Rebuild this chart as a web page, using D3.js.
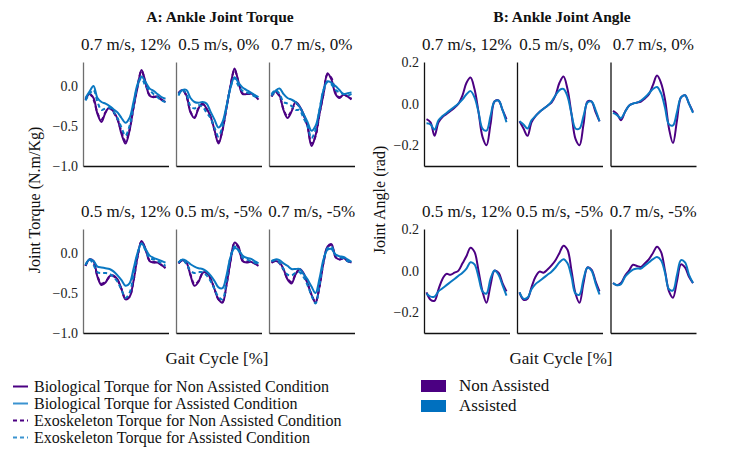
<!DOCTYPE html>
<html>
<head>
<meta charset="utf-8">
<script src="https://cdn.jsdelivr.net/npm/d3@7"></script>
<style>
  html, body { margin: 0; padding: 0; background: #fff; }
  svg { display: block; font-family: "Liberation Serif", "Times New Roman", serif; }
</style>
</head>
<body>
<svg id="chart" width="730" height="449"></svg>
<script>
// ---------------- DATA ----------------
const gait = [0,5,10,15,20,25,30,35,40,45,50,55,60,65,70,75,80,85,90,95,100];
const conditions = ["0.7 m/s, 12%", "0.5 m/s, 0%", "0.7 m/s, 0%", "0.5 m/s, 12%", "0.5 m/s, -5%", "0.7 m/s, -5%"];

// Panel A: ankle joint torque (N.m/Kg), one row per condition
const torqueBioNon = [
  [-0.17,-0.10,-0.15,-0.35,-0.45,-0.33,-0.27,-0.32,-0.41,-0.60,-0.72,-0.56,-0.27,-0.02,0.20,0.05,-0.12,-0.14,-0.13,-0.17,-0.20],
  [-0.09,-0.05,-0.12,-0.33,-0.40,-0.28,-0.22,-0.28,-0.38,-0.55,-0.72,-0.55,-0.27,0.00,0.22,0.05,-0.10,-0.10,-0.09,-0.12,-0.17],
  [-0.13,-0.07,-0.12,-0.30,-0.40,-0.32,-0.20,-0.25,-0.35,-0.50,-0.75,-0.62,-0.35,-0.10,0.16,0.08,-0.10,-0.15,-0.11,-0.13,-0.17],
  [-0.16,-0.08,-0.10,-0.30,-0.40,-0.37,-0.29,-0.28,-0.33,-0.45,-0.58,-0.55,-0.35,-0.05,0.15,0.05,-0.10,-0.12,-0.12,-0.15,-0.19],
  [-0.13,-0.09,-0.12,-0.28,-0.41,-0.36,-0.25,-0.24,-0.32,-0.45,-0.58,-0.62,-0.40,-0.10,0.13,0.08,-0.10,-0.12,-0.11,-0.13,-0.16],
  [-0.12,-0.10,-0.12,-0.20,-0.33,-0.38,-0.27,-0.20,-0.25,-0.38,-0.52,-0.62,-0.42,-0.12,0.08,0.11,-0.05,-0.08,-0.06,-0.10,-0.12]
];
const torqueBioAss = [
  [-0.15,-0.07,0.00,-0.15,-0.20,-0.22,-0.25,-0.29,-0.33,-0.40,-0.46,-0.40,-0.20,0.02,0.12,0.05,-0.03,-0.06,-0.10,-0.14,-0.16],
  [-0.10,-0.05,-0.05,-0.15,-0.20,-0.21,-0.20,-0.22,-0.32,-0.42,-0.52,-0.45,-0.25,-0.02,0.11,0.04,-0.02,-0.05,-0.08,-0.11,-0.14],
  [-0.12,-0.06,-0.03,-0.10,-0.15,-0.17,-0.20,-0.26,-0.35,-0.45,-0.56,-0.50,-0.30,-0.05,0.06,0.04,0.00,-0.05,-0.10,-0.09,-0.08],
  [-0.15,-0.08,-0.10,-0.17,-0.18,-0.19,-0.20,-0.23,-0.28,-0.34,-0.41,-0.38,-0.20,0.00,0.12,0.05,-0.03,-0.06,-0.08,-0.10,-0.12],
  [-0.12,-0.08,-0.10,-0.14,-0.17,-0.19,-0.20,-0.23,-0.28,-0.35,-0.43,-0.44,-0.28,-0.05,0.06,0.04,-0.03,-0.06,-0.07,-0.10,-0.13],
  [-0.10,-0.08,-0.09,-0.13,-0.16,-0.20,-0.20,-0.20,-0.26,-0.33,-0.42,-0.50,-0.32,-0.08,0.04,0.05,-0.02,-0.04,-0.05,-0.08,-0.11]
];
const torqueExoNon = [
  [-0.17,-0.10,-0.17,-0.34,-0.42,-0.33,-0.28,-0.33,-0.42,-0.57,-0.69,-0.55,-0.27,0.00,0.19,0.03,-0.11,-0.13,-0.14,-0.17,-0.19],
  [-0.09,-0.05,-0.13,-0.32,-0.39,-0.28,-0.23,-0.29,-0.38,-0.55,-0.70,-0.55,-0.27,0.00,0.20,0.05,-0.09,-0.10,-0.10,-0.12,-0.16],
  [-0.13,-0.08,-0.13,-0.29,-0.38,-0.31,-0.22,-0.26,-0.36,-0.50,-0.72,-0.63,-0.35,-0.10,0.14,0.10,-0.08,-0.14,-0.11,-0.13,-0.16],
  [-0.16,-0.08,-0.12,-0.29,-0.38,-0.36,-0.30,-0.29,-0.34,-0.45,-0.57,-0.55,-0.35,-0.05,0.14,0.05,-0.09,-0.11,-0.12,-0.15,-0.18],
  [-0.13,-0.09,-0.13,-0.27,-0.39,-0.35,-0.26,-0.25,-0.32,-0.45,-0.58,-0.61,-0.40,-0.10,0.12,0.07,-0.09,-0.11,-0.11,-0.13,-0.15],
  [-0.12,-0.10,-0.13,-0.21,-0.32,-0.36,-0.27,-0.21,-0.26,-0.38,-0.52,-0.61,-0.42,-0.12,0.07,0.10,-0.05,-0.08,-0.07,-0.10,-0.12]
];
const torqueExoAss = [
  [-0.18,-0.10,-0.05,-0.20,-0.30,-0.28,-0.27,-0.32,-0.40,-0.52,-0.62,-0.50,-0.25,0.00,0.10,0.00,-0.05,-0.10,-0.14,-0.18,-0.20],
  [-0.12,-0.05,-0.10,-0.25,-0.28,-0.24,-0.26,-0.33,-0.40,-0.52,-0.63,-0.50,-0.27,-0.02,0.10,0.00,-0.06,-0.08,-0.10,-0.13,-0.15],
  [-0.10,-0.05,-0.10,-0.20,-0.22,-0.25,-0.30,-0.30,-0.40,-0.50,-0.65,-0.55,-0.30,-0.05,0.05,0.02,-0.05,-0.08,-0.10,-0.12,-0.10],
  [-0.15,-0.08,-0.15,-0.24,-0.25,-0.25,-0.26,-0.30,-0.36,-0.46,-0.56,-0.50,-0.28,-0.02,0.12,0.03,-0.06,-0.08,-0.10,-0.13,-0.16],
  [-0.12,-0.08,-0.14,-0.22,-0.25,-0.24,-0.24,-0.28,-0.35,-0.45,-0.55,-0.58,-0.35,-0.05,0.08,0.03,-0.06,-0.08,-0.10,-0.12,-0.14],
  [-0.10,-0.09,-0.12,-0.20,-0.27,-0.28,-0.25,-0.24,-0.30,-0.40,-0.53,-0.63,-0.40,-0.10,0.06,0.08,-0.02,-0.05,-0.07,-0.10,-0.12]
];

// Panel B: ankle joint angle (rad)
const angleNon = [
  [-0.075,-0.09,-0.155,-0.09,-0.065,-0.05,-0.035,-0.02,0.00,0.04,0.10,0.125,0.07,-0.04,-0.16,-0.20,-0.10,0.01,0.015,-0.03,-0.075],
  [-0.085,-0.12,-0.155,-0.09,-0.06,-0.04,-0.025,-0.01,0.005,0.04,0.10,0.13,0.07,-0.05,-0.17,-0.20,-0.10,0.01,0.01,-0.04,-0.085],
  [-0.035,-0.05,-0.08,-0.04,-0.01,0.00,0.005,0.01,0.025,0.045,0.09,0.135,0.10,0.02,-0.12,-0.19,-0.08,0.03,0.04,0.00,-0.04],
  [-0.105,-0.14,-0.145,-0.09,-0.04,-0.016,-0.02,-0.01,0.00,0.035,0.07,0.11,0.09,0.00,-0.10,-0.155,-0.07,0.00,-0.01,-0.06,-0.10],
  [-0.105,-0.14,-0.135,-0.08,-0.03,-0.005,-0.01,0.005,0.025,0.05,0.085,0.12,0.10,0.00,-0.11,-0.155,-0.06,0.015,0.005,-0.05,-0.10],
  [-0.06,-0.07,-0.06,-0.025,0.00,0.028,0.022,0.018,0.035,0.055,0.085,0.115,0.09,0.00,-0.10,-0.13,-0.05,0.03,0.015,-0.03,-0.06]
];
const angleAss = [
  [-0.095,-0.10,-0.125,-0.08,-0.06,-0.045,-0.03,-0.015,0.00,0.02,0.045,0.06,0.03,-0.04,-0.12,-0.13,-0.06,0.01,0.015,-0.03,-0.09],
  [-0.085,-0.10,-0.12,-0.08,-0.06,-0.04,-0.025,-0.01,0.01,0.04,0.065,0.07,0.035,-0.05,-0.12,-0.12,-0.06,0.005,0.01,-0.03,-0.085],
  [-0.045,-0.055,-0.07,-0.04,-0.01,0.00,0.005,0.015,0.03,0.05,0.07,0.08,0.05,-0.02,-0.10,-0.105,-0.04,0.03,0.04,0.00,-0.045],
  [-0.11,-0.125,-0.125,-0.10,-0.085,-0.07,-0.055,-0.04,-0.025,-0.01,0.01,0.04,0.03,-0.03,-0.10,-0.11,-0.04,0.00,-0.02,-0.07,-0.12],
  [-0.105,-0.135,-0.13,-0.09,-0.065,-0.05,-0.035,-0.02,-0.005,0.015,0.04,0.055,0.035,-0.03,-0.11,-0.115,-0.04,0.015,0.00,-0.06,-0.115],
  [-0.06,-0.07,-0.065,-0.03,-0.01,0.005,0.01,0.01,0.025,0.04,0.055,0.065,0.05,-0.01,-0.09,-0.095,-0.02,0.05,0.04,-0.02,-0.06]
];

const torqueTicks = [0.0, -0.5, -1.0];
const angleTicks = [0.2, 0.0, -0.2];
const torqueLegend = [
  "Biological Torque for Non Assisted Condition",
  "Biological Torque for Assisted Condition",
  "Exoskeleton Torque for Non Assisted Condition",
  "Exoskeleton Torque for Assisted Condition"
];
const angleLegend = ["Non Assisted", "Assisted"];

// ---------------- STYLE / LAYOUT ----------------
const PURPLE = "#4B0082";
const BLUE = "#0A78C2";
const FONT = '"Liberation Serif", "Times New Roman", serif';
const svg = d3.select("#chart");

const panelW = 85.5;
const rowTop = [62, 229];
const rowH = 104;
const colA = [83, 176, 269];
const colB = [424, 517, 610.5];
const fmt = v => d3.format(".1f")(v).replace("-", "\u2212");

const lineGen = (xs, ys) => d3.line()
  .x((d, i) => xs(gait[i]))
  .y(d => ys(d))
  .curve(d3.curveCatmullRom.alpha(0.5));

function drawPanel(x0, y0, idx, domain, ticks, showLabels, leftColor, series) {
  const xs = d3.scaleLinear().domain([0, 100]).range([x0 + 2.5, x0 + panelW - 3]);
  const ys = d3.scaleLinear().domain(domain).range([y0 + rowH, y0]);
  const g = svg.append("g");
  const la = g.append("g").attr("transform", `translate(${x0},0)`)
    .call(d3.axisLeft(ys).tickValues(ticks).tickSize(0).tickPadding(5).tickFormat(showLabels ? fmt : ""));
  la.select(".domain").attr("stroke", leftColor).attr("stroke-width", 1.3);
  la.selectAll("text").attr("font-family", FONT).attr("font-size", 14).attr("fill", "#222");
  const ba = g.append("g").attr("transform", `translate(0,${y0 + rowH})`)
    .call(d3.axisBottom(d3.scaleLinear().domain([0, 100]).range([x0, x0 + panelW])).tickValues([]).tickSize(0));
  ba.select(".domain").attr("stroke", "#111").attr("stroke-width", 1.3);
  series.forEach(s => {
    g.append("path")
      .attr("d", lineGen(xs, ys)(s.values))
      .attr("fill", "none")
      .attr("stroke", s.color)
      .attr("stroke-width", 2)
      .attr("stroke-dasharray", s.dash || null)
      .attr("stroke-linejoin", "round");
  });
  svg.append("text")
    .attr("x", x0 + panelW / 2).attr("y", y0 - 12)
    .attr("text-anchor", "middle")
    .attr("font-family", FONT).attr("font-size", 17).attr("fill", "#111")
    .text(conditions[idx]);
}

for (let i = 0; i < 6; i++) {
  const r = Math.floor(i / 3), c = i % 3;
  drawPanel(colA[c], rowTop[r], i, [-1.0, 0.3], torqueTicks, c === 0, "#6e6e6e", [
    { values: torqueBioNon[i], color: PURPLE },
    { values: torqueExoNon[i], color: PURPLE, dash: "4,3" },
    { values: torqueBioAss[i], color: BLUE },
    { values: torqueExoAss[i], color: BLUE, dash: "4,3" }
  ]);
  drawPanel(colB[c], rowTop[r], i, [-0.3, 0.2], angleTicks, c === 0, "#111", [
    { values: angleNon[i], color: PURPLE },
    { values: angleAss[i], color: BLUE }
  ]);
}

// main titles
svg.append("text").attr("x", 220).attr("y", 22).attr("text-anchor", "middle")
  .attr("font-family", FONT).attr("font-size", 15.5).attr("font-weight", "bold").attr("fill", "#111")
  .text("A: Ankle Joint Torque");
svg.append("text").attr("x", 562).attr("y", 22).attr("text-anchor", "middle")
  .attr("font-family", FONT).attr("font-size", 15.5).attr("font-weight", "bold").attr("fill", "#111")
  .text("B: Ankle Joint Angle");

// axis titles
svg.append("text").attr("transform", "translate(40,200) rotate(-90)").attr("text-anchor", "middle")
  .attr("font-family", FONT).attr("font-size", 16).attr("fill", "#111").text("Joint Torque (N.m/Kg)");
svg.append("text").attr("transform", "translate(385,200) rotate(-90)").attr("text-anchor", "middle")
  .attr("font-family", FONT).attr("font-size", 16).attr("fill", "#111").text("Joint Angle (rad)");
svg.append("text").attr("x", 217).attr("y", 364).attr("text-anchor", "middle")
  .attr("font-family", FONT).attr("font-size", 17).attr("fill", "#111").text("Gait Cycle [%]");
svg.append("text").attr("x", 561).attr("y", 364).attr("text-anchor", "middle")
  .attr("font-family", FONT).attr("font-size", 17).attr("fill", "#111").text("Gait Cycle [%]");

// legend A
const legA = [
  { color: PURPLE, dash: null },
  { color: "#3a93d0", dash: null },
  { color: PURPLE, dash: "4,3" },
  { color: "#3a93d0", dash: "4,3" }
];
torqueLegend.forEach((t, i) => {
  const y = 386.5 + i * 17;
  svg.append("line").attr("x1", 13).attr("x2", 28).attr("y1", y).attr("y2", y)
    .attr("stroke", legA[i].color).attr("stroke-width", 2).attr("stroke-dasharray", legA[i].dash);
  svg.append("text").attr("x", 34).attr("y", y + 5)
    .attr("font-family", FONT).attr("font-size", 16).attr("fill", "#111").text(t);
});

// legend B
const legBColors = [PURPLE, "#0070BF"];
angleLegend.forEach((t, i) => {
  const y = 380 + i * 20;
  svg.append("rect").attr("x", 421).attr("y", y).attr("width", 25).attr("height", 12).attr("fill", legBColors[i]);
  svg.append("text").attr("x", 459).attr("y", y + 11)
    .attr("font-family", FONT).attr("font-size", 17).attr("fill", "#111").text(t);
});
</script>
</body>
</html>
